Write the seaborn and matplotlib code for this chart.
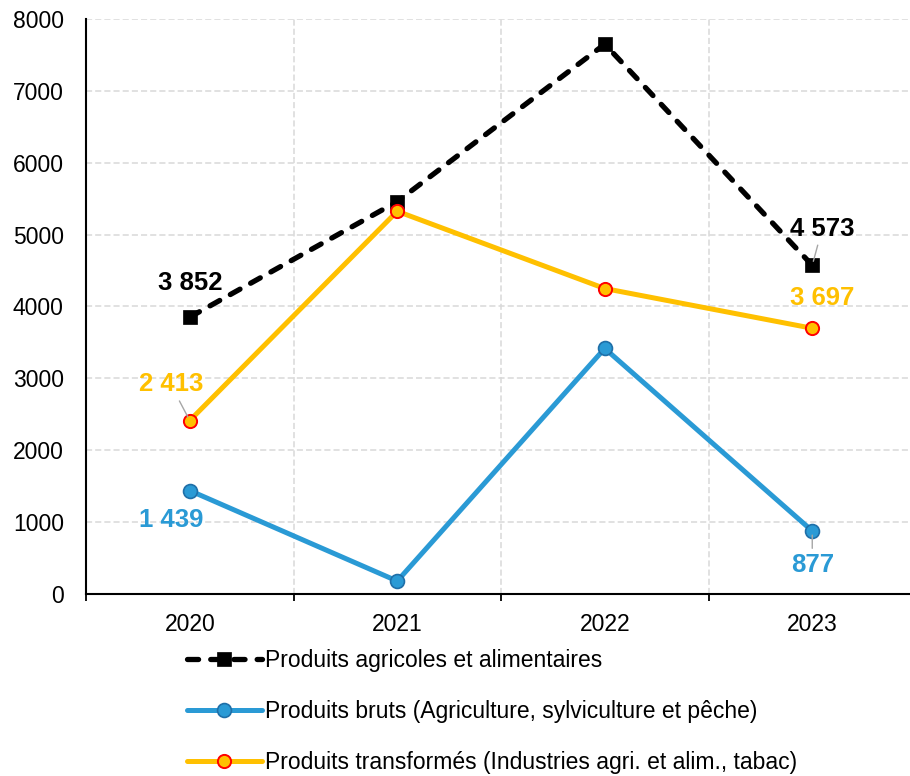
import numpy as np
import pandas as pd
import matplotlib
matplotlib.use("Agg")
import matplotlib.pyplot as plt
import seaborn as sns

years = ["2020", "2021", "2022", "2023"]
agri_alim = [3852, 5460, 7650, 4573]
bruts = [1439, 180, 3417, 877]
transformes = [2413, 5325, 4250, 3697]
series_names = [
    "Produits agricoles et alimentaires",
    "Produits bruts (Agriculture, sylviculture et pêche)",
    "Produits transformés (Industries agri. et alim., tabac)",
]
yticks = [0, 1000, 2000, 3000, 4000, 5000, 6000, 7000, 8000]

sns.set_theme(style="white")
plt.rcParams["font.family"] = ["Liberation Sans", "DejaVu Sans"]

fig = plt.figure(figsize=(9.1, 7.76), dpi=100)
ax = fig.add_axes([86 / 910, (776 - 594) / 776, 830 / 910, 575 / 776])

x = np.arange(len(years))
df = pd.DataFrame({"x": x, "agri": agri_alim, "bruts": bruts, "transf": transformes})

sns.lineplot(data=df, x="x", y="agri", ax=ax, color="black", lw=3.8,
             linestyle=(0, (2.1, 2.3)), dash_capstyle="round",
             marker="s", markersize=10.5, markeredgecolor="black",
             markeredgewidth=0.5, label=series_names[0], zorder=3)
sns.lineplot(data=df, x="x", y="bruts", ax=ax, color="#2A9AD5", lw=3.6,
             marker="o", markersize=10, markeredgecolor="#1F6FA8",
             markeredgewidth=1.2, label=series_names[1], zorder=3)
sns.lineplot(data=df, x="x", y="transf", ax=ax, color="#FFC000", lw=3.6,
             marker="o", markersize=9.5, markeredgecolor="#FF0000",
             markeredgewidth=1.4, label=series_names[2], zorder=4)

ax.set_xlim(-0.5, len(years) - 0.5)
ax.set_ylim(0, 8000)
ax.set_yticks(yticks)
ax.set_yticklabels([str(v) for v in yticks])
ax.set_xticks(x)
ax.set_xticklabels(years)
ax.set_xticks(np.arange(len(years) + 1) - 0.5, minor=True)
ax.set_xlabel("")
ax.set_ylabel("")

ax.grid(False)
ax.yaxis.grid(True, color="#D9D9D9", linestyle=(0, (4, 2)), lw=1.1, zorder=0)
ax.xaxis.grid(True, which="minor", color="#D9D9D9", linestyle=(0, (4, 2)), lw=1.1, zorder=0)
ax.set_axisbelow(True)

for s in ["top", "right"]:
    ax.spines[s].set_visible(False)
for s in ["left", "bottom"]:
    ax.spines[s].set_color("black")
    ax.spines[s].set_linewidth(1.5)

ax.tick_params(axis="y", which="both", length=0, pad=16, labelsize=16.5, labelcolor="black")
ax.tick_params(axis="x", which="major", length=0, pad=14, labelsize=16.5, labelcolor="black")
ax.tick_params(axis="x", which="minor", length=5, width=1.3, color="black", direction="out", bottom=True)

lbl_kw = dict(textcoords="offset points", ha="center", va="center",
              fontsize=18.5, fontweight="bold", zorder=6)
lead = dict(arrowstyle="-", color="#A6A6A6", lw=1.0, shrinkA=1, shrinkB=3)

def fmt(v):
    return f"{v:,}".replace(",", " ")

ax.annotate(fmt(agri_alim[0]), xy=(0, agri_alim[0]), xytext=(0, 24.5), color="black", **lbl_kw)
ax.annotate(fmt(agri_alim[3]), xy=(3, agri_alim[3]), xytext=(7.2, 26.5), color="black",
            arrowprops=lead, **lbl_kw)
ax.annotate(fmt(transformes[0]), xy=(0, transformes[0]), xytext=(-13.7, 26), color="#FFC000",
            arrowprops=lead, **lbl_kw)
ax.annotate(fmt(transformes[3]), xy=(3, transformes[3]), xytext=(7.2, 21.5), color="#FFC000", **lbl_kw)
ax.annotate(fmt(bruts[0]), xy=(0, bruts[0]), xytext=(-13.7, -21.5), color="#2A9AD5", **lbl_kw)
ax.annotate(fmt(bruts[3]), xy=(3, bruts[3]), xytext=(0, -24.5), color="#2A9AD5",
            arrowprops=lead, **lbl_kw)

handles, labels = ax.get_legend_handles_labels()
ax.get_legend().remove()
fig.legend(handles, labels, loc="upper left", bbox_to_anchor=(187 / 910, 1 - 649 / 776),
           frameon=False, fontsize=16.5, handlelength=3.26, handletextpad=0.15,
           labelspacing=1.22, borderpad=0, borderaxespad=0, labelcolor="black")

fig.savefig("out.png", dpi=100)
